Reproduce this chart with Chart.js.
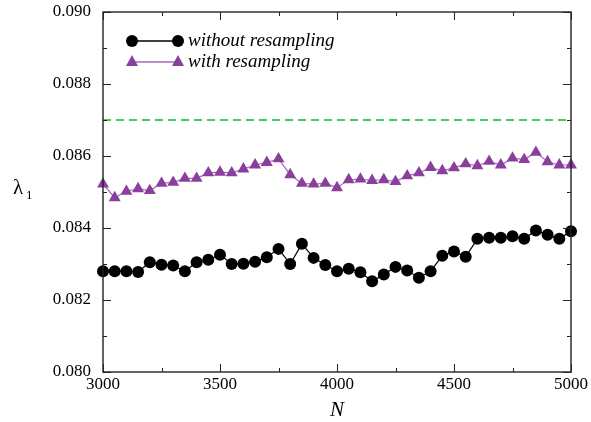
<!DOCTYPE html>
<html>
<head>
<meta charset="utf-8">
<script src="https://cdn.jsdelivr.net/npm/chart.js@4/dist/chart.umd.min.js"></script>
<style>
  html, body { margin: 0; padding: 0; background: #fff; }
  #wrap { width: 591px; height: 422px; }
</style>
</head>
<body>
<div id="wrap"><canvas id="chart" width="591" height="422"></canvas></div>
<script>
// N values along x
const nValues = [3000, 3050, 3100, 3150, 3200, 3250, 3300, 3350, 3400, 3450,
                 3500, 3550, 3600, 3650, 3700, 3750, 3800, 3850, 3900, 3950,
                 4000, 4050, 4100, 4150, 4200, 4250, 4300, 4350, 4400, 4450,
                 4500, 4550, 4600, 4650, 4700, 4750, 4800, 4850, 4900, 4950, 5000];

const withoutResampling = [0.0828, 0.0828, 0.0828, 0.08278, 0.08305, 0.08298, 0.08296, 0.0828, 0.08305, 0.08312,
                           0.08326, 0.0830, 0.08301, 0.08306, 0.08319, 0.08342, 0.0830, 0.08356, 0.08317, 0.08297,
                           0.0828, 0.08287, 0.08277, 0.08252, 0.08271, 0.08292, 0.08282, 0.08262, 0.0828, 0.08323,
                           0.08335, 0.0832, 0.0837, 0.08373, 0.08373, 0.08377, 0.0837, 0.08393, 0.08381, 0.0837, 0.08391];

const withResampling = [0.08522, 0.08484, 0.08502, 0.08509, 0.08504, 0.08524, 0.08527, 0.08538, 0.08538, 0.08553,
                        0.08555, 0.08553, 0.08564, 0.08575, 0.08582, 0.08592, 0.08548, 0.08524, 0.08522, 0.08524,
                        0.08512, 0.08534, 0.08536, 0.08532, 0.08534, 0.08529, 0.08545, 0.08553, 0.08568, 0.08559,
                        0.08567, 0.08578, 0.08573, 0.08585, 0.08575, 0.08594, 0.0859, 0.0861, 0.08584, 0.08575, 0.08575];

const referenceLevel = [0.087, 0.087];
const referenceN = [3000, 5000];

const xTicks = [3000, 3500, 4000, 4500, 5000];
const yTicks = [0.080, 0.082, 0.084, 0.086, 0.088, 0.090];

const seriesNames = ["without resampling", "with resampling"];

const PURPLE = "#8b3f9c";
const PURPLE_LINE = "#a46bb5";
const GREEN = "#3fcf5b";
const SERIF = "'Liberation Serif', 'DejaVu Serif', serif";

function pairs(xs, ys) {
    return xs.map((x, i) => ({ x: x, y: ys[i] }));
}

// inward ticks, frame, axis titles and legend
const decor = {
    id: "decor",
    afterDraw(chart) {
        const ctx = chart.ctx;
        const a = chart.chartArea;
        const xs = chart.scales.x;
        const ys = chart.scales.y;

        ctx.save();
        ctx.strokeStyle = "#222";
        ctx.lineWidth = 1.4;
        ctx.strokeRect(a.left, a.top, a.right - a.left, a.bottom - a.top);

        ctx.lineWidth = 1;
        for (let v = 3000; v <= 5000; v += 250) {
            const px = Math.round(xs.getPixelForValue(v)) + 0.5;
            const len = v % 500 == 0 ? 8 : 4;
            ctx.beginPath();
            ctx.moveTo(px, a.bottom); ctx.lineTo(px, a.bottom - len);
            ctx.moveTo(px, a.top); ctx.lineTo(px, a.top + len);
            ctx.stroke();
        }
        for (let k = 0; k <= 10; k++) {
            const v = 0.080 + k * 0.001;
            const py = Math.round(ys.getPixelForValue(v)) + 0.5;
            const len = k % 2 == 0 ? 8 : 4;
            ctx.beginPath();
            ctx.moveTo(a.left, py); ctx.lineTo(a.left + len, py);
            ctx.moveTo(a.right, py); ctx.lineTo(a.right - len, py);
            ctx.stroke();
        }

        // axis titles
        ctx.fillStyle = "#000";
        ctx.textBaseline = "alphabetic";
        ctx.textAlign = "center";
        ctx.font = "italic 21px " + SERIF;
        ctx.fillText("N", (a.left + a.right) / 2, 416);

        ctx.textAlign = "left";
        ctx.font = "21px " + SERIF;
        ctx.fillText("λ", 13, 194);
        ctx.font = "13px " + SERIF;
        ctx.fillText("1", 26, 199);

        // legend
        const lx1 = 132, lx2 = 178;
        let ly = 41;
        ctx.strokeStyle = "#000";
        ctx.lineWidth = 1.3;
        ctx.beginPath(); ctx.moveTo(lx1, ly); ctx.lineTo(lx2, ly); ctx.stroke();
        ctx.fillStyle = "#000";
        [lx1, lx2].forEach(x => { ctx.beginPath(); ctx.arc(x, ly, 6, 0, Math.PI * 2); ctx.fill(); });
        ctx.font = "italic 19px " + SERIF;
        ctx.textBaseline = "middle";
        ctx.fillText(seriesNames[0], 188, ly);

        ly = 62;
        ctx.strokeStyle = PURPLE_LINE;
        ctx.beginPath(); ctx.moveTo(lx1, ly); ctx.lineTo(lx2, ly); ctx.stroke();
        ctx.fillStyle = PURPLE;
        [lx1, lx2].forEach(x => {
            ctx.beginPath();
            ctx.moveTo(x, ly - 7);
            ctx.lineTo(x + 6, ly + 4);
            ctx.lineTo(x - 6, ly + 4);
            ctx.closePath();
            ctx.fill();
        });
        ctx.fillStyle = "#000";
        ctx.fillText(seriesNames[1], 188, ly);
        ctx.restore();
    }
};

new Chart(document.getElementById("chart"), {
    type: "line",
    data: {
        datasets: [
            {
                label: "reference",
                data: pairs(referenceN, referenceLevel),
                borderColor: GREEN,
                borderWidth: 1.8,
                borderDash: [8, 5],
                pointRadius: 0,
                clip: false,
                order: 3
            },
            {
                label: seriesNames[1],
                data: pairs(nValues, withResampling),
                borderColor: PURPLE_LINE,
                borderWidth: 1.2,
                pointStyle: "triangle",
                pointRadius: 6.9,
                pointBackgroundColor: PURPLE,
                pointBorderColor: PURPLE,
                pointBorderWidth: 0,
                clip: false,
                order: 2
            },
            {
                label: seriesNames[0],
                data: pairs(nValues, withoutResampling),
                borderColor: "#000",
                borderWidth: 1.2,
                pointStyle: "circle",
                pointRadius: 6,
                pointBackgroundColor: "#000",
                pointBorderColor: "#000",
                pointBorderWidth: 0,
                clip: false,
                order: 1
            }
        ]
    },
    options: {
        responsive: false,
        animation: false,
        events: [],
        layout: { padding: { top: 12, right: 20, left: 0, bottom: 0 } },
        plugins: { legend: { display: false }, tooltip: { enabled: false } },
        scales: {
            x: {
                type: "linear",
                min: 3000, max: 5000,
                afterBuildTicks(s) { s.ticks = xTicks.map(v => ({ value: v })); },
                afterFit(s) { s.height = 50; s.paddingLeft = 0; s.paddingRight = 0; },
                grid: { display: false, drawTicks: false },
                border: { display: false },
                ticks: {
                    padding: 2,
                    color: "#000",
                    font: { family: SERIF, size: 17 },
                    maxRotation: 0,
                    callback: v => String(v)
                }
            },
            y: {
                min: 0.080, max: 0.090,
                afterBuildTicks(s) { s.ticks = yTicks.map(v => ({ value: v })); },
                afterFit(s) { s.width = 103; s.paddingTop = 0; s.paddingBottom = 0; },
                grid: { display: false, drawTicks: false },
                border: { display: false },
                ticks: {
                    padding: 12,
                    color: "#000",
                    font: { family: SERIF, size: 17 },
                    callback: v => v.toFixed(3)
                }
            }
        }
    },
    plugins: [decor]
});
</script>
</body>
</html>
